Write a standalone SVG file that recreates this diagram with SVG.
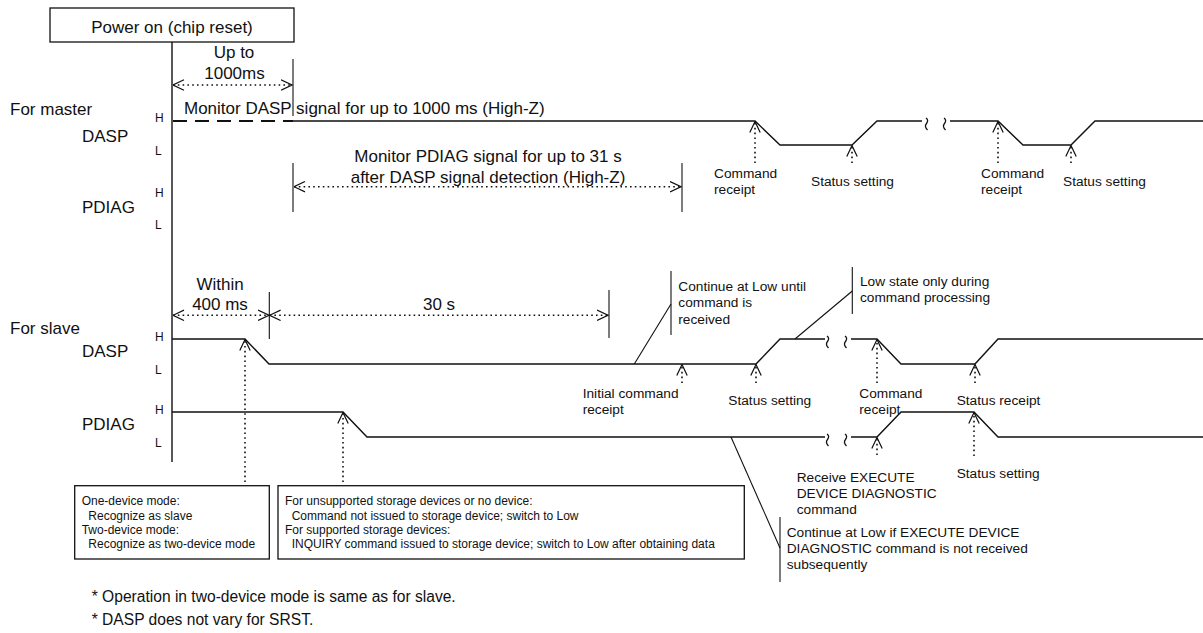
<svg xmlns="http://www.w3.org/2000/svg" width="1203" height="633" viewBox="0 0 1203 633">
<style>
text{font-family:"Liberation Sans",Arial,sans-serif;fill:#111}
.big{font-size:17px}
.mid{font-size:13.7px}
.hl{font-size:12px}
.bx{font-size:12px}
.ft{font-size:15.6px}
.mdl{text-anchor:middle}
.sig{fill:none;stroke:#111;stroke-width:1.4}
.thin{fill:none;stroke:#111;stroke-width:1.1}
.dot{fill:none;stroke:#111;stroke-width:1.6;stroke-dasharray:1.6 3.2}
.dash{fill:none;stroke:#111;stroke-width:2.2;stroke-dasharray:14 8}
.box{fill:#fff;stroke:#111;stroke-width:1.3}
.brk{fill:none;stroke:#111;stroke-width:1.3}
</style>
<defs>
<marker id="chev" viewBox="0 0 12 12" refX="11.5" refY="6" markerWidth="12" markerHeight="12" markerUnits="userSpaceOnUse" orient="auto-start-reverse">
<path d="M0.5,0.8 L11.5,6 L0.5,11.2" fill="none" stroke="#111" stroke-width="1.2"/>
</marker>
</defs>

<g id="power-on">
<rect class="box" x="50" y="8" width="244" height="34"/>
<text class="big mdl" x="172" y="33">Power on (chip reset)</text>
</g>

<g id="axis-labels">
<text class="big" x="10" y="114.5">For master</text>
<text class="big" x="82" y="142">DASP</text>
<text class="big" x="82" y="213">PDIAG</text>
<text class="hl" x="155" y="121.5">H</text>
<text class="hl" x="155" y="155">L</text>
<text class="hl" x="155" y="197">H</text>
<text class="hl" x="155" y="228.5">L</text>
<text class="big" x="10" y="333.5">For slave</text>
<text class="big" x="82" y="357">DASP</text>
<text class="big" x="82" y="430">PDIAG</text>
<text class="hl" x="155" y="341">H</text>
<text class="hl" x="155" y="374">L</text>
<text class="hl" x="155" y="414">H</text>
<text class="hl" x="155" y="447">L</text>
</g>

<g id="timing-labels">
<text class="big mdl" x="234" y="58">Up to</text>
<text class="big mdl" x="234.5" y="79">1000ms</text>
<text class="big" x="184" y="113.5">Monitor DASP signal for up to 1000 ms (High-Z)</text>
<text class="big mdl" x="488" y="162">Monitor PDIAG signal for up to 31 s</text>
<text class="big mdl" x="488" y="182.5">after DASP signal detection (High-Z)</text>
<text class="big mdl" x="220" y="290">Within</text>
<text class="big mdl" x="220" y="310">400 ms</text>
<text class="big mdl" x="439" y="310">30 s</text>
</g>

<g id="master-event-labels">
<text class="mid" x="714" y="177.5">Command</text>
<text class="mid" x="714" y="193.5">receipt</text>
<text class="mid" x="811" y="186">Status setting</text>
<text class="mid" x="981" y="177.5">Command</text>
<text class="mid" x="981" y="193.5">receipt</text>
<text class="mid" x="1063" y="186">Status setting</text>
</g>

<g id="slave-event-labels">
<text class="mid" x="582.7" y="397.5">Initial command</text>
<text class="mid" x="582.7" y="413.5">receipt</text>
<text class="mid" x="728.3" y="405">Status setting</text>
<text class="mid" x="859.3" y="397.5">Command</text>
<text class="mid" x="859.3" y="413.5">receipt</text>
<text class="mid" x="956.7" y="405">Status receipt</text>
<text class="mid" x="796.7" y="482">Receive EXECUTE</text>
<text class="mid" x="796.7" y="498">DEVICE DIAGNOSTIC</text>
<text class="mid" x="796.7" y="514">command</text>
<text class="mid" x="956.7" y="477.5">Status setting</text>
</g>

<g id="note-continue-low">
<text class="mid" x="678.3" y="291">Continue at Low until</text>
<text class="mid" x="678.3" y="307">command is</text>
<text class="mid" x="678.3" y="323.5">received</text>
</g>
<g id="note-low-state">
<text class="mid" x="860" y="286">Low state only during</text>
<text class="mid" x="860" y="301.7">command processing</text>
</g>
<g id="note-continue-exec">
<text class="mid" x="786.7" y="536.7">Continue at Low if EXECUTE DEVICE</text>
<text class="mid" x="786.7" y="552.7">DIAGNOSTIC command is not received</text>
<text class="mid" x="786.7" y="568.5">subsequently</text>
</g>

<g id="box-mode">
<rect class="box" x="74.7" y="485.7" width="194.6" height="73.3"/>
<text class="bx" x="81.7" y="505.3">One-device mode:</text>
<text class="bx" x="88.3" y="519.5">Recognize as slave</text>
<text class="bx" x="81.7" y="533.8">Two-device mode:</text>
<text class="bx" x="88.3" y="548.3">Recognize as two-device mode</text>
</g>

<g id="box-storage">
<rect class="box" x="278" y="485.7" width="466.3" height="73.3"/>
<text class="bx" x="285" y="505.3">For unsupported storage devices or no device:</text>
<text class="bx" x="291.7" y="519.5">Command not issued to storage device; switch to Low</text>
<text class="bx" x="285" y="533.8">For supported storage devices:</text>
<text class="bx" x="291.7" y="548.3">INQUIRY command issued to storage device; switch to Low after obtaining data</text>
</g>

<g id="footnotes">
<text class="ft" x="91.7" y="601.7">* Operation in two-device mode is same as for slave.</text>
<text class="ft" x="91.7" y="625">* DASP does not vary for SRST.</text>
</g>

<g id="connectors">
<!-- time axis -->
<path class="sig" d="M172,42 V462"/>
<!-- master DASP -->
<path class="dash" d="M173,121 H293"/>
<path class="sig" d="M293,121 H755 L780,145 H852 L877,121 H922"/>
<path class="sig" d="M950,121 H998 L1023,145 H1071 L1095,121 H1203"/>
<path class="brk" d="M926,118 q3,2 0.5,5.5 q-2.5,3 1,6.5"/>
<path class="brk" d="M944,118 q3,2 0.5,5.5 q-2.5,3 1,6.5"/>
<!-- slave DASP -->
<path class="sig" d="M172,339 H245 L269,364 H756 L780,339 H825"/>
<path class="sig" d="M851,339 H877 L901,364 H975 L998,339 H1203"/>
<path class="brk" d="M827,336 q3,2 0.5,5.5 q-2.5,3 1,6.5"/>
<path class="brk" d="M845,336 q3,2 0.5,5.5 q-2.5,3 1,6.5"/>
<!-- slave PDIAG -->
<path class="sig" d="M172,412 H343 L367,437 H825"/>
<path class="sig" d="M851,437 H877 L901,412 H974 L998,437 H1203"/>
<path class="brk" d="M827,434 q3,2 0.5,5.5 q-2.5,3 1,6.5"/>
<path class="brk" d="M845,434 q3,2 0.5,5.5 q-2.5,3 1,6.5"/>

<!-- dimension ticks -->
<path class="thin" d="M293,59 V116"/>
<path class="thin" d="M293,163 V212"/>
<path class="thin" d="M682,163 V212"/>
<path class="thin" d="M269.3,292 V339"/>
<path class="thin" d="M609,290 V338"/>
<!-- dimension arrows -->
<path class="dot" d="M173,85 H292" marker-start="url(#chev)" marker-end="url(#chev)"/>
<path class="dot" d="M294,186.7 H681" marker-start="url(#chev)" marker-end="url(#chev)"/>
<path class="dot" d="M173,315.3 H269" marker-start="url(#chev)" marker-end="url(#chev)"/>
<path class="dot" d="M269.6,315.3 H608" marker-start="url(#chev)" marker-end="url(#chev)"/>

<!-- event arrows master -->
<path class="dot" d="M755,163 V121.5" marker-end="url(#chev)"/>
<path class="dot" d="M852,163 V145.5" marker-end="url(#chev)"/>
<path class="dot" d="M998,163 V121.5" marker-end="url(#chev)"/>
<path class="dot" d="M1071,163 V145.5" marker-end="url(#chev)"/>
<!-- event arrows slave -->
<path class="dot" d="M245,482 V339.5" marker-end="url(#chev)"/>
<path class="dot" d="M343,482 V412.5" marker-end="url(#chev)"/>
<path class="dot" d="M682,383 V364.5" marker-end="url(#chev)"/>
<path class="dot" d="M756,383 V364.5" marker-end="url(#chev)"/>
<path class="dot" d="M877,383 V339.5" marker-end="url(#chev)"/>
<path class="dot" d="M975,383 V364.5" marker-end="url(#chev)"/>
<path class="dot" d="M877,455 V437.5" marker-end="url(#chev)"/>
<path class="dot" d="M974,456 V412.5" marker-end="url(#chev)"/>

<!-- annotation leaders -->
<path class="thin" d="M634.3,364 L671,304"/>
<path class="thin" d="M671,271 V335"/>
<path class="thin" d="M795,339 L852.3,291"/>
<path class="thin" d="M852.3,267 V314"/>
<path class="thin" d="M731,437 L780,548"/>
<path class="thin" d="M780,517 V582"/>
</g>
</svg>
